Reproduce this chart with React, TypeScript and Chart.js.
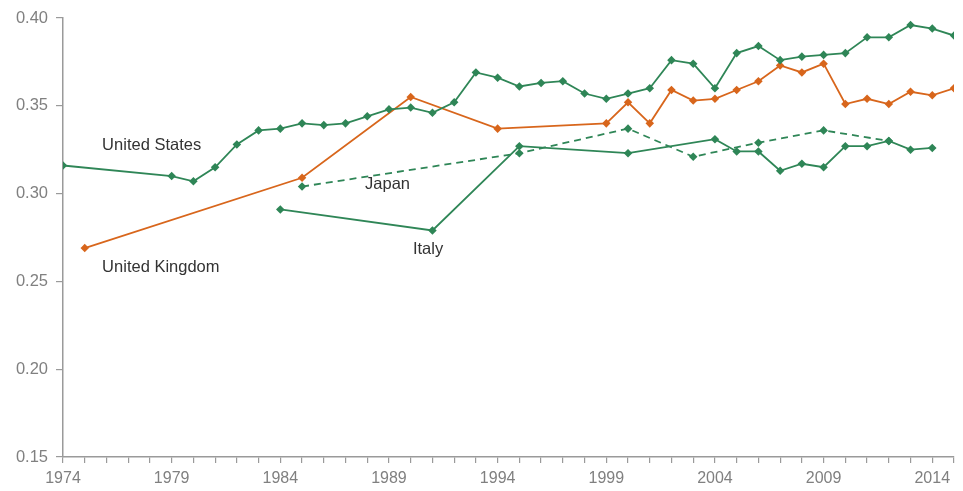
import React, { useEffect, useRef } from "react";
import { Chart, registerables } from "chart.js";

Chart.register(...registerables);

const usYears = [1974, 1979, 1980, 1981, 1982, 1983, 1984, 1985, 1986, 1987, 1988, 1989, 1990, 1991, 1992, 1993, 1994, 1995, 1996, 1997, 1998, 1999, 2000, 2001, 2002, 2003, 2004, 2005, 2006, 2007, 2008, 2009, 2010, 2011, 2012, 2013, 2014, 2015];
const usValues = [0.316, 0.310, 0.307, 0.315, 0.328, 0.336, 0.337, 0.340, 0.339, 0.340, 0.344, 0.348, 0.349, 0.346, 0.352, 0.369, 0.366, 0.361, 0.363, 0.364, 0.357, 0.354, 0.357, 0.360, 0.376, 0.374, 0.360, 0.380, 0.384, 0.376, 0.378, 0.379, 0.380, 0.389, 0.389, 0.396, 0.394, 0.390];

const ukYears = [1975, 1985, 1990, 1994, 1999, 2000, 2001, 2002, 2003, 2004, 2005, 2006, 2007, 2008, 2009, 2010, 2011, 2012, 2013, 2014, 2015];
const ukValues = [0.269, 0.309, 0.355, 0.337, 0.340, 0.352, 0.340, 0.359, 0.353, 0.354, 0.359, 0.364, 0.373, 0.369, 0.374, 0.351, 0.354, 0.351, 0.358, 0.356, 0.360];

const japanYears = [1985, 1995, 2000, 2003, 2006, 2009, 2012];
const japanValues = [0.304, 0.323, 0.337, 0.321, 0.329, 0.336, 0.330];

const italyYears = [1984, 1991, 1995, 2000, 2004, 2005, 2006, 2007, 2008, 2009, 2010, 2011, 2012, 2013, 2014];
const italyValues = [0.291, 0.279, 0.327, 0.323, 0.331, 0.324, 0.324, 0.313, 0.317, 0.315, 0.327, 0.327, 0.330, 0.325, 0.326];

const labelTexts = ["United States", "United Kingdom", "Japan", "Italy"];
const labelYears = [1975.8, 1975.8, 1987.9, 1990.1];
const labelValues = [0.3275, 0.258, 0.305, 0.268];

const GREEN = "#2f8657";
const ORANGE = "#d8661c";

const toPoints = (xs: number[], ys: number[]) => xs.map((x, i) => ({ x, y: ys[i] }));

const textPlugin = {
  id: "seriesLabels",
  afterDatasetsDraw(chart: any) {
    const { ctx, scales } = chart;
    ctx.save();
    ctx.fillStyle = "#333333";
    ctx.font = '16.5px "Liberation Sans", Arial, sans-serif';
    ctx.textAlign = "left";
    ctx.textBaseline = "middle";
    labelTexts.forEach((t, i) => {
      ctx.fillText(t, scales.x.getPixelForValue(labelYears[i]), scales.y.getPixelForValue(labelValues[i]));
    });
    ctx.restore();
  },
};

export default function App() {
  const ref = useRef<HTMLCanvasElement>(null);
  useEffect(() => {
    if (!ref.current) return;
    const common = {
      borderWidth: 1.8,
      pointStyle: "rectRot",
      pointRadius: 3,
      pointHoverRadius: 3,
      tension: 0,
      fill: false,
    };
    const chart = new Chart(ref.current, {
      type: "line",
      data: {
        datasets: [
          { ...common, label: "United States", data: toPoints(usYears, usValues), borderColor: GREEN, backgroundColor: GREEN },
          { ...common, label: "United Kingdom", data: toPoints(ukYears, ukValues), borderColor: ORANGE, backgroundColor: ORANGE },
          { ...common, label: "Japan", data: toPoints(japanYears, japanValues), borderColor: GREEN, backgroundColor: GREEN, borderDash: [7, 5] },
          { ...common, label: "Italy", data: toPoints(italyYears, italyValues), borderColor: GREEN, backgroundColor: GREEN },
        ],
      } as any,
      options: {
        animation: false,
        responsive: false,
        maintainAspectRatio: false,
        layout: { padding: { left: 0, right: 9, top: 18, bottom: 0 } },
        plugins: { legend: { display: false }, tooltip: { enabled: false } },
        scales: {
          x: {
            type: "linear",
            min: 1974,
            max: 2015,
            afterFit: (s: any) => { s.height = 34; },
            border: { display: true, color: "#9a9a9a", width: 1.5 },
            grid: { display: true, drawOnChartArea: false, drawTicks: true, tickLength: 6, color: "#9a9a9a", lineWidth: 1.2 },
            ticks: {
              stepSize: 1,
              autoSkip: false,
              maxRotation: 0,
              padding: 6,
              color: "#808080",
              font: { size: 16, family: '"Liberation Sans", Arial, sans-serif' },
              callback: (v: any) => ((Number(v) - 1974) % 5 === 0 ? String(v) : ""),
            },
          },
          y: {
            min: 0.15,
            max: 0.4,
            afterFit: (s: any) => { s.width = 63; },
            border: { display: true, color: "#9a9a9a", width: 1.5 },
            grid: { display: true, drawOnChartArea: false, drawTicks: true, tickLength: 7, color: "#9a9a9a", lineWidth: 1.2 },
            ticks: {
              stepSize: 0.05,
              padding: 8,
              color: "#808080",
              font: { size: 16.5, family: '"Liberation Sans", Arial, sans-serif' },
              callback: (v: any) => Number(v).toFixed(2),
            },
          },
        },
      } as any,
      plugins: [textPlugin],
    });
    return () => chart.destroy();
  }, []);
  return (
    <div style={{ position: "fixed", left: 0, top: 0, width: 963, height: 491, background: "#fff" }}>
      <canvas ref={ref} width={963} height={491} style={{ width: 963, height: 491 }} />
    </div>
  );
}
